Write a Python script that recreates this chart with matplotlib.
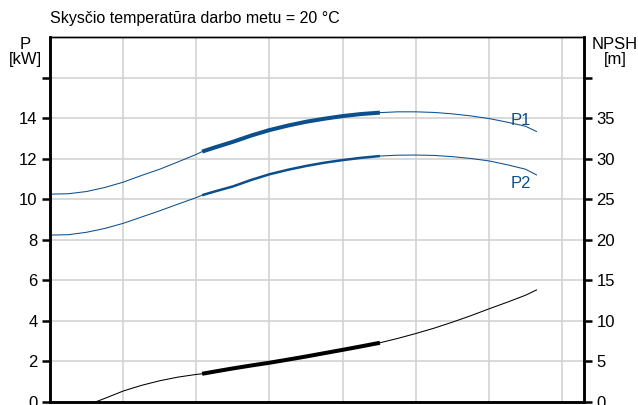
import matplotlib
matplotlib.use("Agg")
import matplotlib.pyplot as plt

plt.rcParams['font.family'] = ['Liberation Sans', 'DejaVu Sans']

# flow positions (grid units, no labels on the x axis)
flow = [0, 0.25, 0.5, 0.75, 1, 1.25, 1.5, 1.75, 2, 2.08, 2.25, 2.5, 2.75, 3, 3.25,
        3.5, 3.75, 4, 4.25, 4.51, 4.75, 5, 5.25, 5.5, 5.75, 6, 6.25, 6.5, 6.65]
p1 = [10.25, 10.27, 10.38, 10.58, 10.84, 11.17, 11.48, 11.84, 12.21, 12.35, 12.55,
      12.83, 13.14, 13.41, 13.63, 13.82, 13.97, 14.1, 14.2, 14.27, 14.31, 14.31,
      14.28, 14.21, 14.11, 13.98, 13.8, 13.6, 13.34]
p2 = [8.23, 8.25, 8.37, 8.56, 8.81, 9.12, 9.43, 9.76, 10.08, 10.2, 10.38,
      10.63, 10.95, 11.23, 11.45, 11.64, 11.8, 11.93, 12.04, 12.13, 12.17, 12.18,
      12.16, 12.1, 12.01, 11.89, 11.7, 11.48, 11.2]

npsh_flow = [0.62, 0.75, 1, 1.25, 1.5, 1.75, 2, 2.08, 2.25, 2.5, 2.75, 3, 3.25,
             3.5, 3.75, 4, 4.25, 4.51, 4.75, 5, 5.25, 5.5, 5.75, 6, 6.25, 6.5, 6.65]
npsh = [0, 0.45, 1.35, 2.05, 2.62, 3.07, 3.4, 3.48, 3.75, 4.14, 4.5, 4.84, 5.22,
        5.61, 6.02, 6.43, 6.85, 7.3, 7.83, 8.44, 9.1, 9.84, 10.63, 11.48, 12.3,
        13.16, 13.81]

# operating range (thick part)
lo, hi = 2.08, 4.51

blue = '#0b4f8c'
grid_c = '#d3d3d3'

fig = plt.figure(figsize=(6.38, 4.05), dpi=100)
ax = fig.add_axes([50/638, 3/405, 534/638, 365/405])
ax2 = ax.twinx()

ax.set_xlim(0, 7.3)
ax.set_ylim(0, 18)
ax2.set_ylim(0, 45)

ax.set_xticks(range(1, 8))
ax.set_yticks(range(0, 18, 2))
ax.set_yticklabels([str(v) for v in range(0, 16, 2)] + [''])
ax2.set_yticks(range(0, 45, 5))
ax2.set_yticklabels([str(v) for v in range(0, 40, 5)] + [''])
ax.grid(True, color=grid_c, lw=1.2)
ax.set_axisbelow(True)
ax.tick_params(axis='x', length=0, labelbottom=False)
ax.tick_params(axis='y', length=6, width=1.8, labelsize=12, pad=3)
ax2.tick_params(axis='y', length=6, width=1.8, labelsize=12, pad=3)

for a in (ax, ax2):
    for s in ('left', 'right', 'bottom'):
        a.spines[s].set_linewidth(1.8)
    a.spines['top'].set_linewidth(1.0)

def thick_part(xs, ys):
    xx = [x for x in xs if lo <= x <= hi]
    yy = [y for x, y in zip(xs, ys) if lo <= x <= hi]
    return xx, yy

ax.plot(flow, p1, color=blue, lw=0.75)
ax.plot(*thick_part(flow, p1), color=blue, lw=2.9, solid_capstyle='butt')
ax.plot(flow, p2, color=blue, lw=0.75)
ax.plot(*thick_part(flow, p2), color=blue, lw=1.8, solid_capstyle='butt')
ax2.plot(npsh_flow, npsh, color='black', lw=0.75)
ax2.plot(*thick_part(npsh_flow, npsh), color='black', lw=2.9, solid_capstyle='butt')

ax.text(6.3, 14.25, 'P1', color=blue, fontsize=12, va='top')
ax.text(6.3, 11.15, 'P2', color=blue, fontsize=12, va='top')

fig.text(50/638, 1 - 19/405, 'Skysčio temperatūra darbo metu = 20 °C', fontsize=11.5, va='center')
fig.text(25/638, 1 - 52/405, 'P\n[kW]', fontsize=12, ha='center', va='center', linespacing=0.95)
fig.text(615/638, 1 - 52/405, 'NPSH\n[m]', fontsize=12, ha='center', va='center', linespacing=0.95)

fig.savefig('out.png', dpi=100)
